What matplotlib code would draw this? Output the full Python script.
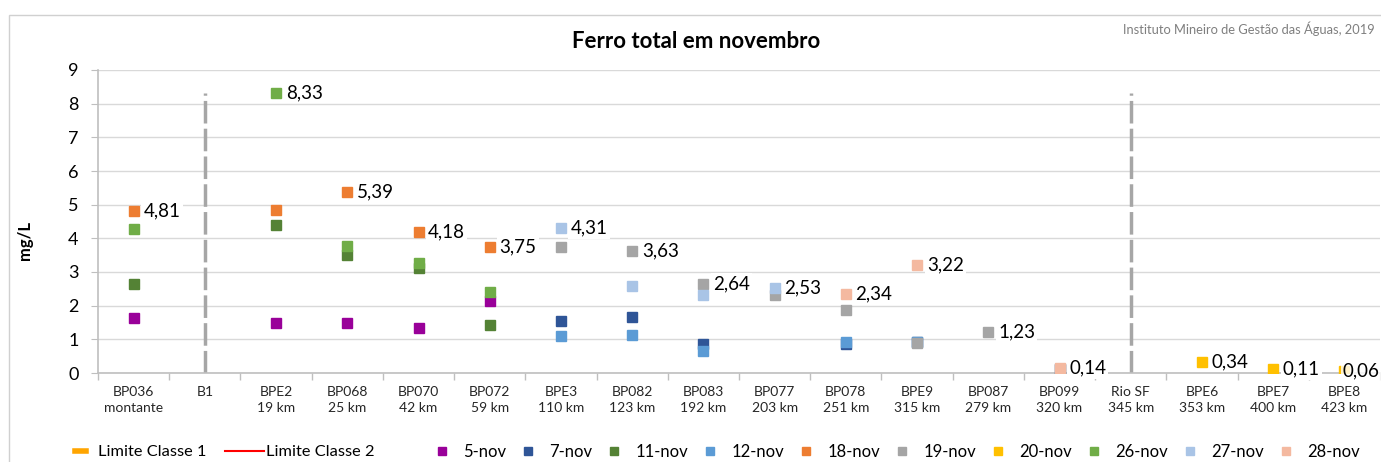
import numpy as np
import matplotlib
matplotlib.use('Agg')
import matplotlib.pyplot as plt
from matplotlib.lines import Line2D
from matplotlib.patches import Rectangle

plt.rcParams['font.family'] = ['Lato', 'DejaVu Sans']

n = np.nan
stations = ['BP036\nmontante', 'B1', 'BPE2\n19 km', 'BP068\n25 km', 'BP070\n42 km',
            'BP072\n59 km', 'BPE3\n110 km', 'BP082\n123 km', 'BP083\n192 km',
            'BP077\n203 km', 'BP078\n251 km', 'BPE9\n315 km', 'BP087\n279 km',
            'BP099\n320 km', 'Rio SF\n345 km', 'BPE6\n353 km', 'BPE7\n400 km',
            'BPE8\n423 km']

nov05 = [1.62, n, 1.50, 1.50, 1.33, 2.15, n, n, n, n, n, n, n, n, n, n, n, n]
nov07 = [n, n, n, n, n, n, 1.54, 1.67, 0.85, n, 0.87, 0.92, n, 0.13, n, n, n, n]
nov11 = [2.65, n, 4.40, 3.50, 3.13, 1.43, n, n, n, n, n, n, n, n, n, n, n, n]
nov12 = [n, n, n, n, n, n, 1.09, 1.12, 0.65, n, 0.93, 0.93, n, n, n, n, n, n]
nov18 = [4.81, n, 4.83, 5.39, 4.18, 3.75, n, n, n, n, n, n, n, n, n, n, n, n]
nov19 = [n, n, n, n, n, n, 3.75, 3.63, 2.64, 2.31, 1.86, 0.90, 1.23, 0.11, n, n, n, n]
nov20 = [n, n, n, n, n, n, n, n, n, n, n, n, n, n, n, 0.34, 0.11, 0.06]
nov26 = [4.27, n, 8.33, 3.78, 3.28, 2.40, n, n, n, n, n, n, n, n, n, n, n, n]
nov27 = [n, n, n, n, n, n, 4.31, 2.57, 2.33, 2.53, n, n, n, n, n, n, n, n]
nov28 = [n, n, n, n, n, n, n, n, n, n, 2.34, 3.22, n, 0.14, n, n, n, n]

series = [('5-nov', nov05, '#990099'), ('7-nov', nov07, '#2F5597'),
          ('11-nov', nov11, '#548235'), ('12-nov', nov12, '#5B9BD5'),
          ('18-nov', nov18, '#ED7D31'), ('19-nov', nov19, '#A5A5A5'),
          ('20-nov', nov20, '#FFC000'), ('26-nov', nov26, '#70AD47'),
          ('27-nov', nov27, '#A9C4E6'), ('28-nov', nov28, '#F4B9A0')]

dividers = ['B1', 'Rio SF\n345 km']

W, H = 1381, 462
fig = plt.figure(figsize=(W / 100, H / 100), dpi=100)
fig.patches.append(Rectangle((9 / W, -0.05), 1.1, 1 - 15 / H + 0.05, transform=fig.transFigure,
                             fill=False, edgecolor='#D0D0D0', lw=1))
ax = fig.add_axes([98 / W, 1 - 373 / H, (1380 - 98) / W, (373 - 70) / H])

x = np.arange(len(stations))
all_vals = np.array([s[1] for s in series], dtype=float)
top = np.nanmax(all_vals)

for i, st in enumerate(stations):
    if st in dividers:
        ax.vlines(i, 0, top, colors='#A6A6A6', lw=2.5, linestyles=(0, (6.5, 1.5)), zorder=2)

for name, vals, col in series:
    ax.plot(x, vals, 's', color=col, ms=7, zorder=3, label=name)

# labels on the highest value of each station
maxes = np.nanmax(np.where(np.isnan(all_vals), -1, all_vals), axis=0)
for i, m in enumerate(maxes):
    if m < 0:
        continue
    last = i == len(stations) - 1
    ax.annotate(f'{m:.2f}'.replace('.', ','), (i, m), xytext=(-1 if last else 7, 0),
                textcoords='offset points', ha='left', va='center', fontsize=13.5,
                color='#000000', zorder=4, annotation_clip=False,
                bbox=dict(boxstyle='square,pad=0.12', fc='white', ec='none',
                          alpha=0.8 if last else 1))

ax.set_xlim(-0.5, len(stations) - 0.5)
ax.set_ylim(0, 9)
ax.set_yticks(range(10))
ax.set_xticks(x)
ax.set_xticklabels(stations, fontsize=10, color='#262626', linespacing=1.45)
ax.set_xticks(np.arange(len(stations) + 1) - 0.5, minor=True)
ax.tick_params(axis='x', which='major', length=0, pad=9)
ax.tick_params(axis='x', which='minor', length=5, color='#BFBFBF', width=1)
ax.tick_params(axis='y', length=5, color='#BFBFBF', labelsize=13, pad=9)
ax.grid(axis='y', color='#D9D9D9', lw=1)
ax.set_axisbelow(True)
for sp in ['top', 'right']:
    ax.spines[sp].set_visible(False)
for sp in ['left', 'bottom']:
    ax.spines[sp].set_color('#BFBFBF')
    ax.spines[sp].set_linewidth(1.2)

fig.text(25 / W, 1 - 240 / H, 'mg/L', rotation=90, ha='center', va='center',
         fontsize=12, fontweight='bold')
fig.text(696 / W, 1 - 42 / H, 'Ferro total em novembro', ha='center', va='center',
         fontsize=16, fontweight='bold')
fig.text(1375 / W, 1 - 29 / H, 'Instituto Mineiro de Gestão das Águas, 2019',
         ha='right', va='center', fontsize=9.3, color='#7F7F7F')

leg_a = fig.legend([Line2D([], [], color='#FFA500', lw=4)], ['Limite Classe 1'],
                   loc='center left', bbox_to_anchor=(60 / W, 1 - 452 / H), frameon=False,
                   fontsize=11.8, handlelength=0.7, handletextpad=0.7)
leg_b = fig.legend([Line2D([], [], color='#FF0000', lw=1.5)], ['Limite Classe 2'],
                   loc='center left', bbox_to_anchor=(210 / W, 1 - 452 / H), frameon=False,
                   fontsize=11.8, handlelength=2.4, handletextpad=0.1)
h, l = ax.get_legend_handles_labels()
leg_c = fig.legend(h, l, ncol=10, loc='center', mode='expand',
                   bbox_to_anchor=(420 / W, 1 - 462 / H, (1375 - 420) / W, 20 / H),
                   frameon=False, fontsize=12, handlelength=0.8, handletextpad=0.9,
                   markerscale=0.9)

fig.savefig('out.png', dpi=100)
